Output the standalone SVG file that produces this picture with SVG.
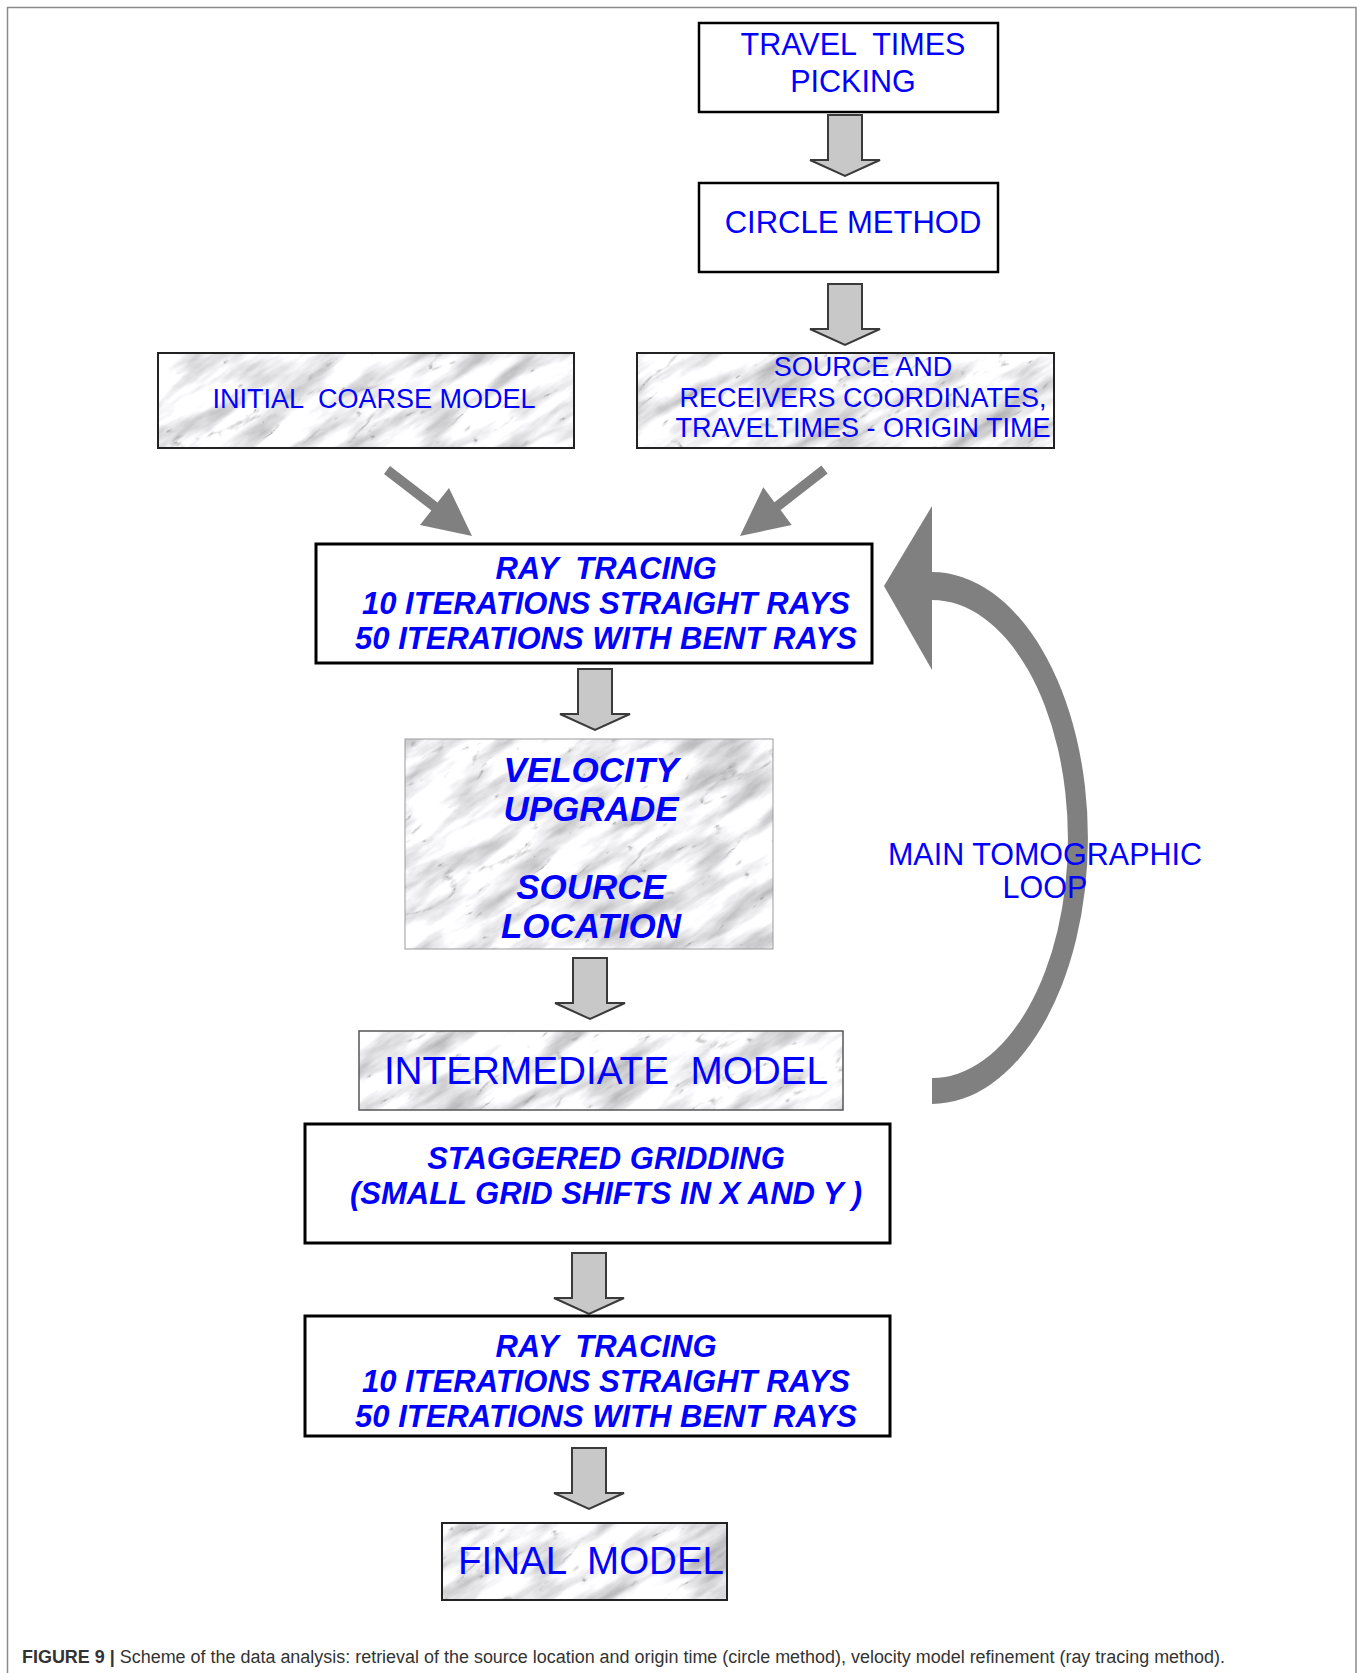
<svg xmlns="http://www.w3.org/2000/svg" width="1363" height="1673" viewBox="0 0 1363 1673">
<style>
.box{fill:#fff;stroke:#000;stroke-width:2.5}
.rt{fill:#fff;stroke:#000;stroke-width:3}
.mb{fill:none;stroke:#222;stroke-width:2}
.t{font-family:"Liberation Sans",Arial,sans-serif;fill:#0000ff;text-anchor:middle;white-space:pre}
.bi{font-family:"Liberation Sans",Arial,sans-serif;fill:#0000ff;text-anchor:middle;font-weight:bold;font-style:italic;white-space:pre}
.darr{fill:#c8c8c8;stroke:#3a3a3a;stroke-width:2;stroke-linejoin:miter}
.garr{fill:#808080}
.cap{font-family:"Liberation Sans",Arial,sans-serif;fill:#333;font-size:18px}
.marble{fill:url(#mp)}
</style>
<defs>
<filter id="marble" filterUnits="userSpaceOnUse" x="0" y="0" width="512" height="512" color-interpolation-filters="sRGB">
<feTurbulence type="fractalNoise" baseFrequency="0.0117 0.0469" numOctaves="5" seed="4" stitchTiles="stitch" result="n"/>
<feColorMatrix in="n" type="matrix" values="0.7 0 0 0 0.6  0.7 0 0 0 0.6  0.7 0 0 0 0.61  0 0 0 0 1" result="g"/>
<feTurbulence type="turbulence" baseFrequency="0.0117 0.0352" numOctaves="4" seed="9" stitchTiles="stitch" result="v"/>
<feColorMatrix in="v" type="matrix" values="0 0 0 0 0.5  0 0 0 0 0.5  0 0 0 0 0.5  -5 0 0 0 0.55" result="veins"/>
<feComposite in="veins" in2="g" operator="over"/>
</filter>
<pattern id="mp" patternUnits="userSpaceOnUse" width="512" height="512" patternTransform="rotate(-32)">
<rect width="512" height="512" fill="#eee" filter="url(#marble)"/>
</pattern>
<path id="down" d="M-17,0 H17 V45 H35 L0,61 L-35,45 H-17 Z"/>
</defs>
<rect width="1363" height="1673" fill="#fff"/>
<path d="M7.5,1673 V7.5 H1356 V1673" fill="none" stroke="#8a8a8a" stroke-width="1.5"/>

<g id="connectors">
<use href="#down" class="darr" x="845" y="115"/>
<use href="#down" class="darr" x="845" y="284"/>
<polygon class="garr" points="390,466 437.6,502.6 449,488 472,536 420,525 431.4,510.5 384,474"/>
<polygon class="garr" points="821.4,465.6 774.4,502.3 763.3,487.3 740,536 791.7,525 780.6,510.1 827.6,473.4"/>
<use href="#down" class="darr" x="595" y="669"/>
<use href="#down" class="darr" x="590" y="958"/>
<use href="#down" class="darr" x="589" y="1253"/>
<use href="#down" class="darr" x="589" y="1448"/>
<g id="loop">
<path class="garr" d="M932,572 A156,266 0 0 1 932,1104 L932,1078 A136,239 0 0 0 932,600 Z"/>
<polygon class="garr" points="884,586 932,506 932,670"/>
</g>
</g>

<g id="travel">
<rect class="box" x="699" y="23" width="299" height="89"/>
<text class="t" font-size="30.5" x="853" y="55" xml:space="preserve">TRAVEL  TIMES</text>
<text class="t" font-size="30.5" x="853" y="92">PICKING</text>
</g>

<g id="circle">
<rect class="box" x="699" y="183" width="299" height="89"/>
<text class="t" font-size="31" x="853" y="233">CIRCLE METHOD</text>
</g>

<g id="initial">
<rect class="marble" x="158" y="353" width="416" height="95"/>
<rect class="mb" x="158" y="353" width="416" height="95"/>
<text class="t" font-size="27" x="374" y="408" xml:space="preserve">INITIAL  COARSE MODEL</text>
</g>

<g id="source">
<rect class="marble" x="637" y="353" width="417" height="95"/>
<rect class="mb" x="637" y="353" width="417" height="95"/>
<text class="t" font-size="27" x="863" y="376">SOURCE AND</text>
<text class="t" font-size="27" x="863" y="407">RECEIVERS COORDINATES,</text>
<text class="t" font-size="27" x="863" y="437">TRAVELTIMES - ORIGIN TIME</text>
</g>

<g id="raytracing1">
<rect class="rt" x="316" y="544" width="556" height="119"/>
<text class="bi" font-size="31" x="606" y="579" xml:space="preserve">RAY  TRACING</text>
<text class="bi" font-size="31" x="606" y="614">10 ITERATIONS STRAIGHT RAYS</text>
<text class="bi" font-size="31" x="606" y="649">50 ITERATIONS WITH BENT RAYS</text>
</g>

<g id="velocity">
<rect class="marble" x="405" y="739" width="368" height="210"/>
<rect x="405" y="739" width="368" height="210" fill="none" stroke="#9a9a9a" stroke-width="1"/>
<text class="bi" font-size="35" x="591" y="782">VELOCITY</text>
<text class="bi" font-size="35" x="591" y="821">UPGRADE</text>
<text class="bi" font-size="35" x="591" y="899">SOURCE</text>
<text class="bi" font-size="35" x="591" y="938">LOCATION</text>
</g>

<g id="intermediate">
<rect class="marble" x="359" y="1031" width="484" height="79"/>
<rect x="359" y="1031" width="484" height="79" fill="none" stroke="#555" stroke-width="1.5"/>
<text class="t" font-size="38.7" x="606" y="1084" xml:space="preserve">INTERMEDIATE  MODEL</text>
</g>

<g id="staggered">
<rect class="rt" x="305" y="1124" width="585" height="119"/>
<text class="bi" font-size="31" x="606" y="1169">STAGGERED GRIDDING</text>
<text class="bi" font-size="31" x="606" y="1204">(SMALL GRID SHIFTS IN X AND Y )</text>
</g>

<g id="raytracing2">
<rect class="rt" x="305" y="1316" width="585" height="120"/>
<text class="bi" font-size="31" x="606" y="1357" xml:space="preserve">RAY  TRACING</text>
<text class="bi" font-size="31" x="606" y="1392">10 ITERATIONS STRAIGHT RAYS</text>
<text class="bi" font-size="31" x="606" y="1427">50 ITERATIONS WITH BENT RAYS</text>
</g>

<g id="final">
<rect class="marble" x="442" y="1523" width="285" height="77"/>
<rect class="mb" x="442" y="1523" width="285" height="77"/>
<text class="t" font-size="38.5" x="591" y="1574" xml:space="preserve">FINAL  MODEL</text>
</g>

<g id="looplabel">
<text class="t" font-size="30.5" x="1045" y="865">MAIN TOMOGRAPHIC</text>
<text class="t" font-size="30.5" x="1045" y="898">LOOP</text>
</g>

<text class="cap" x="22" y="1663" textLength="1203" lengthAdjust="spacingAndGlyphs"><tspan font-weight="bold">FIGURE 9 |</tspan> Scheme of the data analysis: retrieval of the source location and origin time (circle method), velocity model refinement (ray tracing method).</text>
</svg>
